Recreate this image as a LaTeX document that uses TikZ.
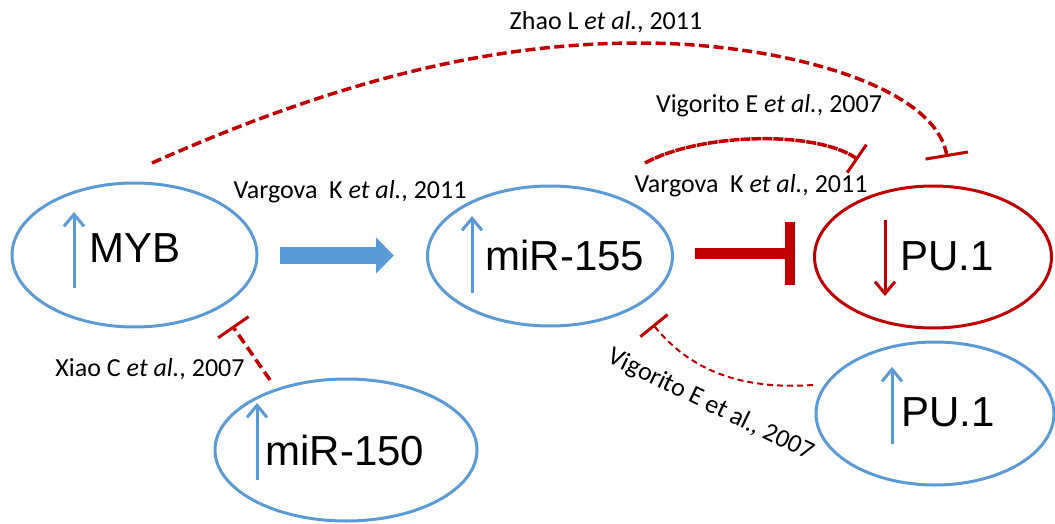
\documentclass[tikz,border=0pt]{standalone}
\usepackage{fontspec}
\setmainfont{Carlito}
\newfontfamily\arialf{Liberation Sans}
\usetikzlibrary{arrows.meta,shapes.geometric,calc}
\definecolor{cblue}{RGB}{91,155,213}
\definecolor{cred}{RGB}{192,0,0}
\begin{document}
\begin{tikzpicture}[x=1pt,y=-1pt,
  ell/.style={draw, ellipse, line width=3pt, inner sep=0pt},
  blueell/.style={ell, cblue},
  redell/.style={ell, cred},
  big/.style={font=\arialf\fontsize{42}{42}\selectfont, inner sep=0pt},
  cite/.style={font=\fontsize{26}{26}\selectfont, inner sep=0pt, anchor=base},
  uparr/.style={line width=3pt, -{Straight Barb[length=12pt,width=20pt]}},
  inhib/.style={cred, line width=3.5pt},
]
\useasboundingbox (0,0) rectangle (1055,524);
% ellipses
\node[blueell, minimum width=245pt, minimum height=144pt] (myb) at (134.5,255) {};
\node[blueell, minimum width=245pt, minimum height=140pt] (mir155) at (550,256) {};
\node[redell, minimum width=237pt, minimum height=142pt] (pu1r) at (933,257) {};
\node[blueell, minimum width=238pt, minimum height=143pt] (pu1b) at (935,413.5) {};
\node[blueell, minimum width=262pt, minimum height=142pt] (mir150) at (346,450) {};
% main labels
\node[big] (tmyb) at (135,248) {MYB};
\node[big] (tmir155) at (565,255.5) {miR-155};
\node[big] (tpu1r) at (947,256.5) {PU.1};
\node[big] (tpu1b) at (948,412) {PU.1};
\node[big] (tmir150) at (345,450) {miR-150};
% small up/down arrows
\draw[cblue, uparr] (74,288) -- (74,212);
\draw[cblue, uparr] (472,293) -- (472,216);
\draw[cblue, uparr] (257,480) -- (257,403);
\draw[cblue, uparr] (892,444) -- (892,367);
\draw[cred, uparr] (885,220) -- (885,296);
% thick blue arrow
\draw[cblue, line width=17pt, -{Triangle[length=18pt,width=35pt]}, shorten <=21pt, shorten >=32pt]
  ($(myb.east)+(0,0.5)$) -- ($(myb.east -| mir155.west)+(0,0.5)$);
% thick red inhibition
\draw[cred, line width=11pt, -{Bar[width=63pt,line width=10pt]}, shorten <=21pt, shorten >=18pt]
  ($(mir155.east)+(0,-3)$) -- ($(mir155.east -| pu1r.west)+(0,-3)$);
% dashed inhibitions
\coordinate (zs) at (152,163);
\coordinate (ze) at (947,157);
\draw[inhib, dash pattern=on 10pt off 4.5pt, -{Bar[width=43pt,line width=3pt]}]
  (zs) .. controls (350,75) and (500,43) .. (640,43) .. controls (780,43) and (935,85) .. (ze);
\coordinate (vs) at (645,163);
\coordinate (ve) at (858,159.5);
\draw[inhib, dash pattern=on 10pt off 1pt, -{Bar[width=34pt,line width=3pt]}]
  (vs) .. controls (700,133) and (815,130) .. (ve);
\coordinate (ws) at (813,385);
\coordinate (we) at (653,324.5);
\draw[inhib, line width=2pt, dash pattern=on 6pt off 4pt, -{Bar[width=35pt,line width=3pt]}]
  (ws) .. controls (740,390) and (690,370) .. (we);
\coordinate (xs) at (270,380);
\coordinate (xe) at (232.5,326);
\draw[inhib, dash pattern=on 10pt off 5pt, -{Bar[width=37pt,line width=3pt]}] (xs) -- (xe);
% citations
\node[cite] (czhao) at (606,30) {Zhao L \textit{et al.}, 2011};
\node[cite] (cvig) at (769,113) {Vigorito E \textit{et al.}, 2007};
\node[cite] (cvarr) at (751,193) {Vargova\ \ K \textit{et al.}, 2011};
\node[cite] (cvarl) at (350,198) {Vargova\ \ K \textit{et al.}, 2011};
\node[cite] (cxiao) at (150,376) {Xiao C \textit{et al.}, 2007};
\node[cite, anchor=center, rotate=-26] (cvig2) at (711,405) {Vigorito E et al., 2007};
\end{tikzpicture}
\end{document}
